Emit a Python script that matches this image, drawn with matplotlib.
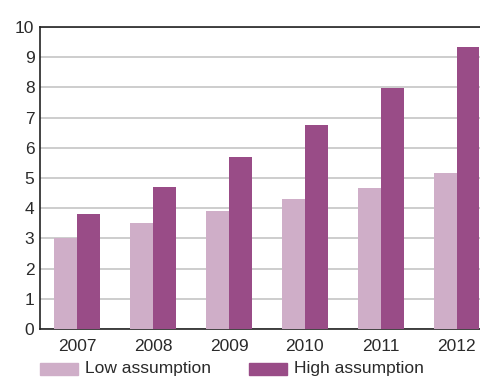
import matplotlib
matplotlib.use("Agg")
import matplotlib.pyplot as plt
from matplotlib.patches import Rectangle
import numpy as np

years = ["2007", "2008", "2009", "2010", "2011", "2012"]
low = [3.0, 3.5, 3.9, 4.3, 4.67, 5.17]
high = [3.8, 4.7, 5.7, 6.75, 7.98, 9.34]
series_names = ["Low assumption", "High assumption"]
yticks = list(range(0, 11))

plt.rcParams['font.family'] = ['Liberation Sans', 'DejaVu Sans']

low_c = "#CFAEC8"
high_c = "#994C87"
txt_c = "#2a2a2a"

fig = plt.figure(figsize=(4.81, 3.78), dpi=100)
ax = fig.add_axes([40/481, 1-329/378, 441/481, (329-27)/378])

x = np.arange(len(years))
w = 0.30
ax.bar(x - w/2, low, width=w, color=low_c, zorder=3)
ax.bar(x + w/2, high, width=w, color=high_c, zorder=3)

ax.set_xlim(-0.49, 5.32)
ax.set_ylim(0, 10)
ax.set_yticks(yticks)
ax.set_yticklabels([str(t) for t in yticks], fontsize=12.5, color=txt_c)
ax.set_xticks(x)
ax.set_xticklabels(years, fontsize=12.5, color=txt_c)
ax.tick_params(axis='y', length=0, pad=4)
ax.tick_params(axis='x', length=0, pad=7)
ax.yaxis.grid(True, color="#cdcdcd", linewidth=1.4, zorder=0)
ax.set_axisbelow(True)
for s in ["left", "bottom", "top"]:
    ax.spines[s].set_color("#222222")
    ax.spines[s].set_linewidth(1.2)
ax.spines["right"].set_visible(False)

# legend
for (px, name, c) in [(40, series_names[0], low_c), (249, series_names[1], high_c)]:
    fig.patches.append(Rectangle((px/481, 1-375/378), 38/481, 12/378,
                                 transform=fig.transFigure, color=c))
    fig.text((px+45)/481, 1-369/378, name, fontsize=12.5, color=txt_c,
             va="center", ha="left")

fig.savefig("out.png", dpi=100)
